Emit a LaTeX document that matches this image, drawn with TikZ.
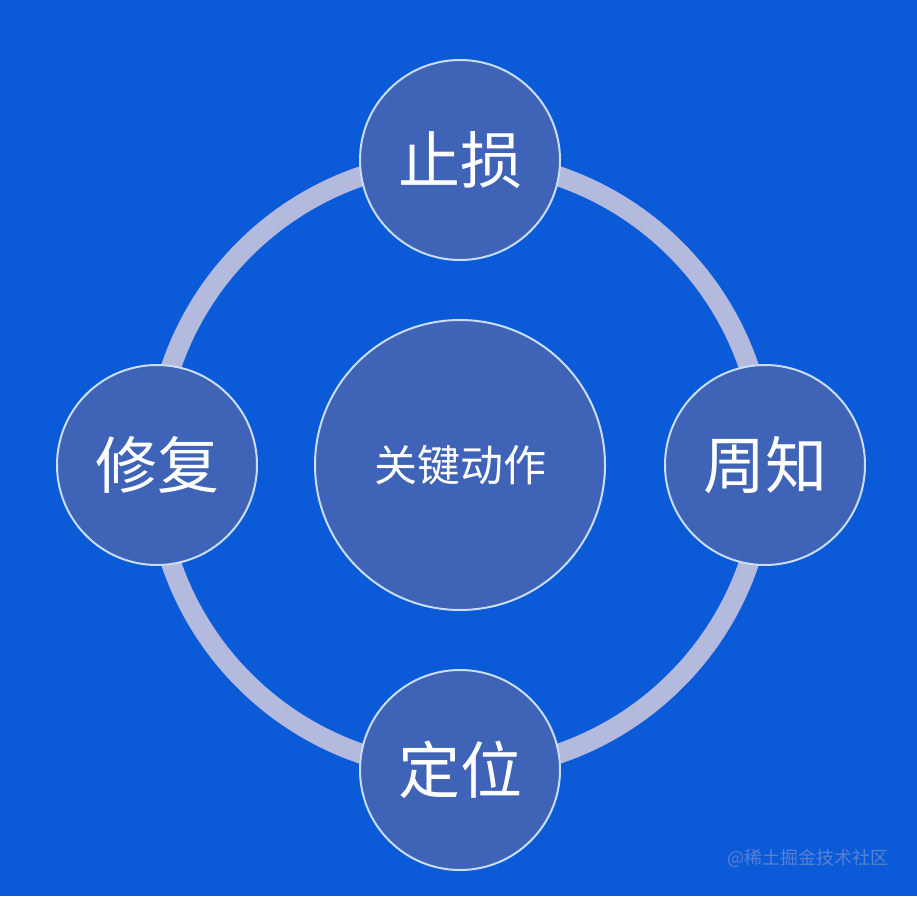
\documentclass[tikz,border=0pt]{standalone}
\usepackage{fontspec}
\newfontfamily\cjk{Noto Sans CJK SC}
\definecolor{bgblue}{HTML}{0B5BD8}
\definecolor{ringc}{HTML}{B3BADD}
\definecolor{discfill}{HTML}{3F63B6}
\definecolor{discedge}{HTML}{C9DDF6}
\definecolor{wmark}{HTML}{5A80D2}
\begin{document}
\begin{tikzpicture}[x=1pt,y=-1pt,
  disc/.style={circle, fill=discfill, draw=discedge, line width=2pt, inner sep=0pt, text=white},
  outerdisc/.style={disc, minimum size=200pt, font=\cjk\fontsize{62}{64}\selectfont},
  centerdisc/.style={disc, minimum size=290pt, font=\cjk\fontsize{43}{46}\selectfont},
  ring/.style={draw=ringc, line width=20pt}]
\fill[bgblue] (0,0) rectangle (917,896);
\useasboundingbox (0,0) rectangle (917,896);
\coordinate (c) at (460,465);
\draw[ring] (c) circle[radius=305pt];
\node[centerdisc] (center) at (460,465) {关键动作};
\node[outerdisc] (top) at (460,160) {止损};
\node[outerdisc] (right) at (765,465) {周知};
\node[outerdisc] (bottom) at (460,770) {定位};
\node[outerdisc] (left) at (157,465) {修复};
\node[text=wmark, font=\cjk\fontsize{18}{20}\selectfont, anchor=east] (wm) at (892,858) {@稀土掘金技术社区};
\end{tikzpicture}
\end{document}
